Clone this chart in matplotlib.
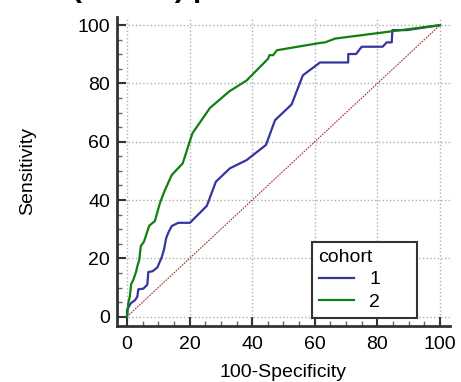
import matplotlib
matplotlib.use('Agg')
import matplotlib.pyplot as plt
from matplotlib.ticker import MultipleLocator

# cohort 1 ROC (100-Specificity, Sensitivity)
fpr_1 = [0, 0, 1.2, 2.6, 3.3, 3.6, 5.2, 6.5, 6.8, 8.2, 9.7, 11.1, 11.8, 12.5,
         13.2, 14.3, 16.4, 20.1, 25.5, 28.4, 32.9, 38.2, 44.4, 47.3, 52.6,
         56.2, 61.7, 70.7, 70.7, 73.2, 75.0, 81.7, 83.0, 84.6, 84.8, 89.4, 100]
tpr_1 = [0, 2.3, 4.6, 5.7, 6.9, 9.4, 9.6, 11.0, 15.3, 15.6, 16.9, 20.4, 22.9,
         26.9, 28.8, 31.1, 32.2, 32.2, 38.0, 46.3, 50.9, 53.7, 58.9, 67.4,
         72.8, 82.8, 87.2, 87.2, 90.1, 90.1, 92.6, 92.6, 94.1, 94.1, 98.3,
         98.3, 100]

# cohort 2 ROC
fpr_2 = [0, 0.2, 0.4, 0.9, 1.3, 2.0, 2.9, 3.4, 3.9, 4.4, 5.4, 6.3, 7.1, 8.9,
         10.5, 11.9, 14.3, 17.8, 20.9, 26.5, 32.7, 38.2, 45.1, 45.5, 46.7,
         47.9, 61.7, 63.3, 66.5, 100]
tpr_2 = [0, 1.7, 4.6, 6.9, 11.1, 12.6, 15.4, 17.7, 19.4, 24.2, 25.7, 28.6,
         31.2, 32.8, 38.9, 42.9, 48.6, 52.6, 62.9, 71.6, 77.3, 81.0, 88.5,
         89.7, 89.7, 91.4, 93.9, 94.1, 95.4, 100]

plt.rcParams['font.family'] = ['Liberation Sans', 'DejaVu Sans']

fig = plt.figure(figsize=(4.61, 3.82), dpi=100)
ax = fig.add_axes([0.2538, 0.1466, 0.7222, 0.8089])

ax.plot([0, 100], [0, 100], color='#a03030', lw=0.8, ls=(0, (1.5, 1)), zorder=2)
ax.plot(fpr_1, tpr_1, color='#3535a0', lw=1.6, label='1', zorder=3)
ax.plot(fpr_2, tpr_2, color='#108010', lw=1.6, label='2', zorder=3)

ax.set_xlim(-3.2, 103.2)
ax.set_ylim(-3.2, 102.8)
ax.xaxis.set_major_locator(MultipleLocator(20))
ax.yaxis.set_major_locator(MultipleLocator(20))
ax.xaxis.set_minor_locator(MultipleLocator(5))
ax.yaxis.set_minor_locator(MultipleLocator(5))
ax.tick_params(which='major', direction='in', length=6.5, width=1.5,
               color='#333333', labelsize=14, pad=5)
ax.tick_params(axis='x', which='major', pad=7)
ax.tick_params(which='minor', direction='in', length=3.5, width=1,
               color='#666666')
ax.grid(True, which='major', color='#b0b0b0', ls=':', lw=1)
ax.set_axisbelow(True)

for s in ['top', 'right']:
    ax.spines[s].set_visible(False)
for s in ['left', 'bottom']:
    ax.spines[s].set_color('#333333')
    ax.spines[s].set_linewidth(2)

ax.set_xlabel('100-Specificity', fontsize=14, labelpad=8)
ax.set_ylabel('Sensitivity', fontsize=14, labelpad=30)

leg = ax.legend(title='cohort', loc='lower left',
                bbox_to_anchor=(0.585, 0.027, 0.316, 0.25), mode='expand',
                borderaxespad=0, fontsize=14, title_fontsize=14,
                fancybox=False, edgecolor='#333333', framealpha=1,
                handlelength=1.8, alignment='left', labelspacing=0.25,
                borderpad=0.35)
leg.get_frame().set_linewidth(1.5)

fig.text(72 / 461, 1 + 3.4 / 382, '(cohort) p', fontsize=21.5, fontweight='bold',
         va='baseline', ha='left')

fig.savefig('out.png', dpi=100)
